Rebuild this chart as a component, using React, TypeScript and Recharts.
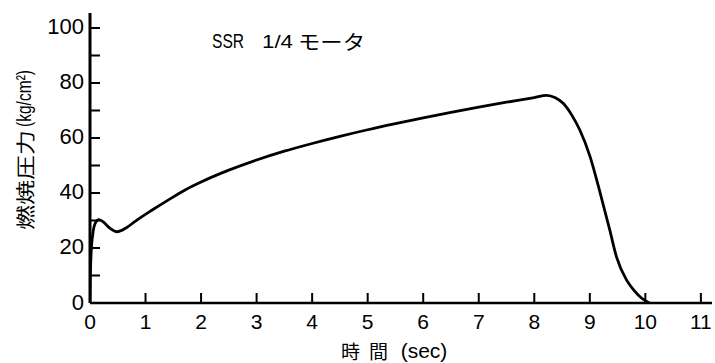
import React from 'react';
import { LineChart, Line, XAxis, YAxis } from 'recharts';

const timeSec = [0, 0.005, 0.02, 0.05, 0.1, 0.16, 0.25, 0.35, 0.49, 0.65, 0.82, 1.12, 1.42, 1.72, 2, 2.5, 3, 3.5, 4, 4.5, 5, 5.5, 6, 6.5, 7, 7.5, 8, 8.22, 8.38, 8.52, 8.67, 8.82, 9.0, 9.18, 9.36, 9.48, 9.66, 9.8, 9.93, 10.07];
const pressure = [0, 8, 18, 25, 29.2, 30.3, 29.3, 27.3, 25.9, 27.3, 29.8, 33.8, 37.6, 41.2, 44, 48.3, 52, 55.2, 58, 60.6, 63, 65.2, 67.3, 69.3, 71.2, 73, 74.7, 75.5, 74.6, 72.6, 68.5, 62.9, 53.5, 40.5, 26.5, 16.8, 8.4, 4.5, 1.8, 0];
const xTicks = [0, 1, 2, 3, 4, 5, 6, 7, 8, 9, 10, 11];
const yTicks = [0, 10, 20, 30, 40, 50, 60, 70, 80, 90, 100];
const titleA = 'SSR';
const titleB = '1/4';
const titleC = 'モータ';
const yLabelA = '燃焼圧力';
const yLabelB = '(kg/cm²)';
const xLabelA = '時';
const xLabelB = '間';
const xLabelC = '(sec)';

const data = timeSec.map((t, i) => ({ t, p: pressure[i] }));

const FONT = '"Liberation Sans", Arial, sans-serif';
const CJK = '"Noto Sans CJK JP", "Liberation Sans", sans-serif';

const XTick = (props: any) => {
  const { x, y, payload } = props;
  return (
    <g>
      {payload.value > 0 && <rect x={x - 1} y={y - 10} width={2} height={10} fill="#000" />}
      <text x={x} y={y + 18} textAnchor="middle" dominantBaseline="central" fontSize={21} fontFamily={FONT} fill="#000">
        {payload.value}
      </text>
    </g>
  );
};

const YTick = (props: any) => {
  const { x, y, payload } = props;
  const v = payload.value as number;
  return (
    <g>
      {v > 0 && <rect x={x} y={y - 1} width={10} height={2} fill="#000" />}
      {v % 20 === 0 && (
        <text x={x - 6} y={y - 1} textAnchor="end" dominantBaseline="central" fontSize={22} fontFamily={FONT} fill="#000">
          {v}
        </text>
      )}
    </g>
  );
};

export default function App() {
  return (
    <div style={{ position: 'absolute', left: 0, top: 0, background: '#fff' }}>
      <LineChart width={715} height={363} data={data} margin={{ top: 13, right: 3, left: 0, bottom: 0 }}>
        <XAxis
          dataKey="t"
          type="number"
          domain={[0, 11.2]}
          ticks={xTicks}
          allowDataOverflow
          height={60}
          tickSize={0}
          tickMargin={0}
          tickLine={false}
          axisLine={{ stroke: '#000', strokeWidth: 2.5 }}
          tick={<XTick />}
          interval={0}
          label={{
            content: () => (
              <g fontSize={19} fill="#000">
                <text x={350.5} y={350} textAnchor="middle" dominantBaseline="central" fontFamily={CJK}>{xLabelA}</text>
                <text x={378.5} y={350} textAnchor="middle" dominantBaseline="central" fontFamily={CJK}>{xLabelB}</text>
                <text x={424} y={350} textAnchor="middle" dominantBaseline="central" fontFamily={FONT} fontSize={21}>{xLabelC}</text>
              </g>
            ),
          }}
        />
        <YAxis
          type="number"
          domain={[0, 105.45]}
          ticks={yTicks}
          allowDataOverflow
          width={90}
          tickSize={0}
          tickMargin={0}
          tickLine={false}
          interval={0}
          axisLine={{ stroke: '#000', strokeWidth: 3 }}
          tick={<YTick />}
          label={{
            content: () => (
              <g fill="#000">
                <g transform="translate(24,150) rotate(-90)">
                  <text x={-80} y={0} dominantBaseline="central" fontSize={19} fontFamily={CJK} textLength={100} lengthAdjust="spacingAndGlyphs">
                    {yLabelA}
                  </text>
                  <text x={23} y={0} dominantBaseline="central" fontSize={20} fontFamily={FONT} textLength={57} lengthAdjust="spacingAndGlyphs">
                    {yLabelB}
                  </text>
                </g>
                <text x={212} y={41} dominantBaseline="central" fontSize={20} fontFamily={FONT} textLength={32} lengthAdjust="spacingAndGlyphs">
                  {titleA}
                </text>
                <text x={262} y={41} dominantBaseline="central" fontSize={19} fontFamily={FONT} textLength={31} lengthAdjust="spacingAndGlyphs">
                  {titleB}
                </text>
                <text x={298} y={41} dominantBaseline="central" fontSize={20} fontFamily={CJK} textLength={67} lengthAdjust="spacingAndGlyphs">
                  {titleC}
                </text>
              </g>
            ),
          }}
        />
        <Line type="monotone" dataKey="p" stroke="#000" strokeWidth={2.8} dot={false} isAnimationActive={false} />
      </LineChart>
    </div>
  );
}
